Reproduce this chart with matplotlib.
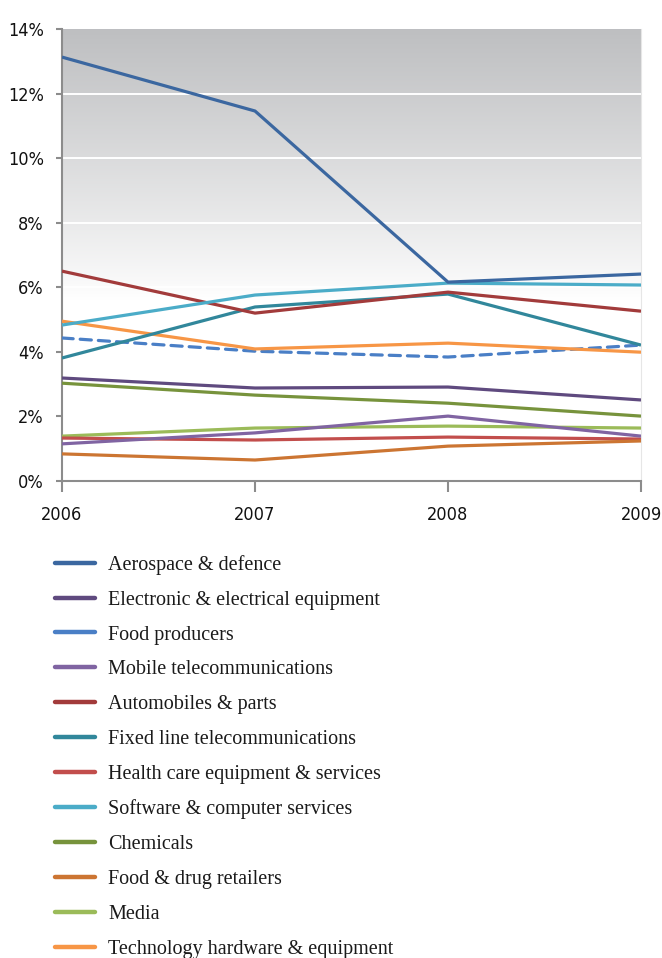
import numpy as np
import matplotlib
matplotlib.use("Agg")
import matplotlib.pyplot as plt
from matplotlib.lines import Line2D

years = [2006, 2007, 2008, 2009]
year_labels = ["2006", "2007", "2008", "2009"]

series_names = [
    "Aerospace & defence",
    "Electronic & electrical equipment",
    "Food producers",
    "Mobile telecommunications",
    "Automobiles & parts",
    "Fixed line telecommunications",
    "Health care equipment & services",
    "Software & computer services",
    "Chemicals",
    "Food & drug retailers",
    "Media",
    "Technology hardware & equipment",
]

aerospace = [13.13, 11.46, 6.16, 6.41]
electronic = [3.19, 2.88, 2.91, 2.51]
food_producers = [4.43, 4.02, 3.84, 4.21]
mobile = [1.15, 1.49, 2.01, 1.39]
automobiles = [6.50, 5.20, 5.85, 5.26]
fixed_line = [3.81, 5.39, 5.79, 4.21]
health_care = [1.33, 1.27, 1.36, 1.30]
software = [4.83, 5.76, 6.13, 6.07]
chemicals = [3.03, 2.66, 2.41, 2.01]
food_drug = [0.84, 0.65, 1.08, 1.24]
media = [1.39, 1.64, 1.70, 1.64]
tech_hw = [4.95, 4.09, 4.27, 3.99]

series_values = [aerospace, electronic, food_producers, mobile, automobiles,
                 fixed_line, health_care, software, chemicals, food_drug,
                 media, tech_hw]

colors = ["#3b67a0", "#5f4a7f", "#4a7fc6", "#8064a2", "#a23b3b", "#31879b",
          "#c24e4c", "#4bacc8", "#77933c", "#cc7532", "#9bbb59", "#f79646"]
styles = ["-", "-", (0, (3.5, 2.2)), "-", "-", "-", "-", "-", "-", "-", "-", "-"]

y_ticks = [0, 2, 4, 6, 8, 10, 12, 14]
y_tick_labels = ["0%", "2%", "4%", "6%", "8%", "10%", "12%", "14%"]

fig = plt.figure(figsize=(6.62, 9.58), dpi=100)
ax = fig.add_axes([62/662, 1-481/958, (641-62)/662, (481-29)/958])

# gradient background
grad = np.linspace(0, 1, 256)
top = np.array([0.745, 0.749, 0.757])
bot = np.array([1.0, 1.0, 1.0])
t = np.clip((grad - 0.40) / 0.60, 0, 1) ** 0.9
img = bot[None, :] * (1 - t[:, None]) + top[None, :] * t[:, None]
img = img[:, None, :]
ax.imshow(img, extent=[0, 1, 0, 1], transform=ax.transAxes, origin="lower",
          aspect="auto", zorder=0, interpolation="bilinear")

ax.set_xlim(2006, 2009)
ax.set_ylim(0, 14)

for yv in y_ticks[1:-1]:
    ax.axhline(yv, color="white", lw=1.4, zorder=1)

order = [10, 6, 9, 3, 8, 1, 2, 11, 5, 4, 7, 0]
for i in order:
    ax.plot(years, series_values[i], color=colors[i], lw=2.3,
            linestyle=styles[i], zorder=3, solid_capstyle="butt",
            dash_capstyle="round")

ax.spines["top"].set_visible(False)
ax.spines["right"].set_color("#e6e6e6")
ax.spines["left"].set_color("#8c8c8c")
ax.spines["bottom"].set_color("#8c8c8c")
ax.spines["left"].set_linewidth(1.5)
ax.spines["bottom"].set_linewidth(1.5)

ax.set_xticks(years)
ax.set_xticklabels(year_labels)
ax.set_yticks(y_ticks)
ax.set_yticklabels(y_tick_labels)
ax.tick_params(axis="x", direction="out", length=8, width=1.5, color="#8c8c8c",
               pad=10, labelcolor="#111111")
ax.tick_params(axis="y", direction="out", length=4, width=1.5, color="#8c8c8c",
               pad=9, labelcolor="#111111")
for lab in ax.get_xticklabels() + ax.get_yticklabels():
    lab.set_fontfamily("DejaVu Sans")
    lab.set_fontstretch("condensed")
    lab.set_fontweight("normal")
    lab.set_fontsize(13)

handles = [Line2D([0], [0], color=c, lw=3.2, solid_capstyle="round") for c in colors]
fig.legend(handles, series_names, loc="upper left",
           bbox_to_anchor=(55/662, 1-555/958), frameon=False,
           prop={"family": ["Liberation Serif", "DejaVu Serif"], "size": 14.5},
           handlelength=2.0, handletextpad=0.65, labelspacing=0.78,
           borderpad=0, borderaxespad=0, labelcolor="#1a1a1a")

fig.savefig("out.png", dpi=100)
